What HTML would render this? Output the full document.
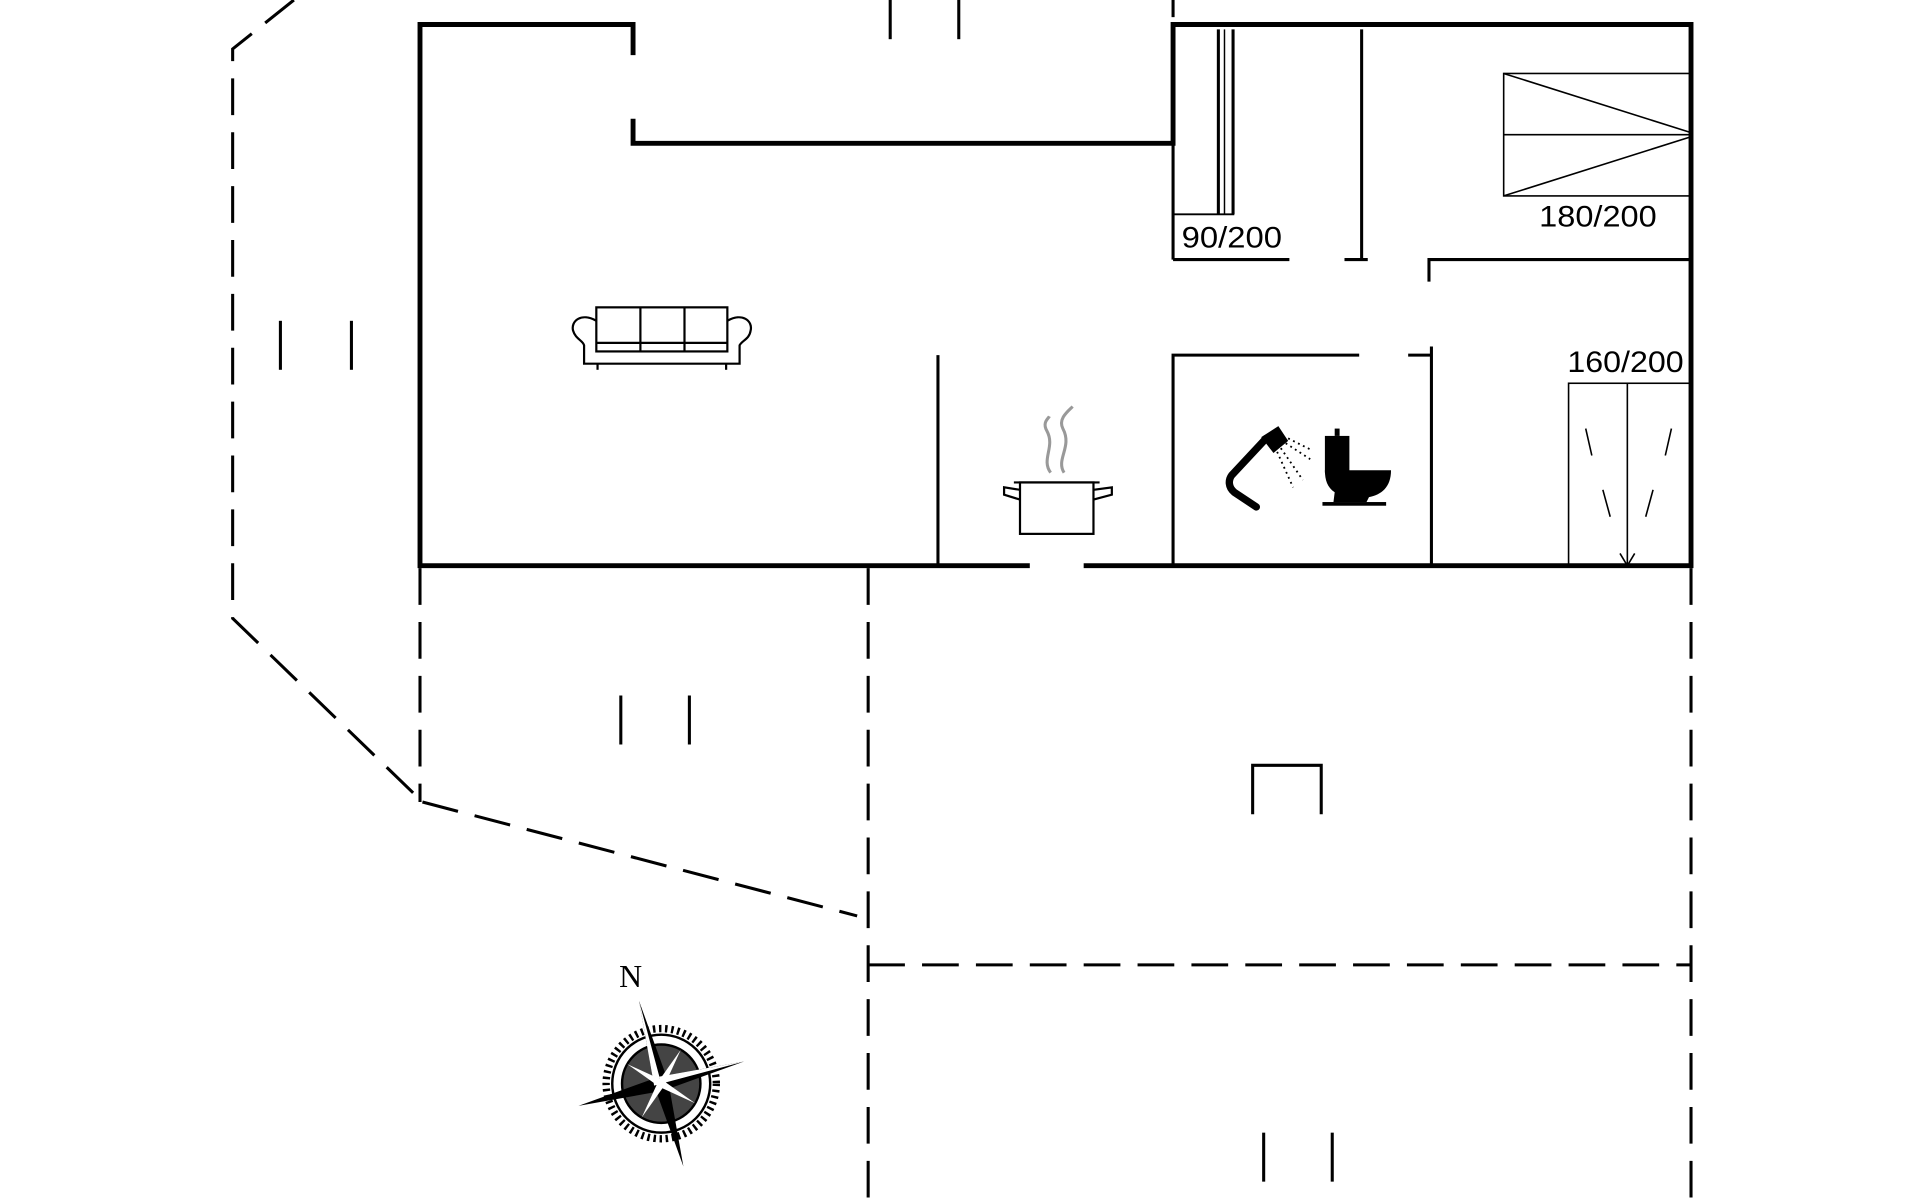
<!DOCTYPE html>
<html><head><meta charset="utf-8"><style>html,body{margin:0;padding:0;background:#fff;width:1920px;height:1200px;overflow:hidden}svg{display:block}</style></head>
<body>
<svg width="1920" height="1200" viewBox="0 0 1568 980" xmlns="http://www.w3.org/2000/svg">
<g fill="none" stroke="#000" stroke-linecap="butt">
<polyline stroke-width="4" points="517,45 517,20 343,20 343,462 841,462"/>
<polyline stroke-width="4" points="885,462 1381,462 1381,20 958,20 958,117 517,117 517,97"/>
<g stroke-width="2.5">
<line x1="766" y1="290" x2="766" y2="462"/>
<line x1="995" y1="24" x2="995" y2="175"/>
<line x1="1000" y1="24" x2="1000" y2="175" stroke-width="1.2"/>
<line x1="1007" y1="24" x2="1007" y2="175"/>
<line x1="958" y1="175" x2="1008" y2="175" stroke-width="1.5"/>
<line x1="958" y1="24" x2="958" y2="212"/>
<line x1="958" y1="212" x2="1053" y2="212"/>
<line x1="1098" y1="212" x2="1117" y2="212"/>
<line x1="1112" y1="24" x2="1112" y2="212"/>
<polyline points="1167,230 1167,212 1381,212"/>
<polyline points="958,462 958,290 1110,290"/>
<polyline points="1150,290 1169,290"/>
<line x1="1169" y1="283" x2="1169" y2="462"/>
</g>
<g stroke-width="1.3">
<rect x="1228" y="60" width="152" height="100"/>
<line x1="1228" y1="110" x2="1380" y2="110"/>
<line x1="1228" y1="60" x2="1380" y2="108"/>
<line x1="1228" y1="160" x2="1380" y2="112"/>
<rect x="1281" y="313" width="99" height="148"/>
<line x1="1329" y1="313" x2="1329" y2="461"/>
<line x1="1295" y1="350" x2="1300" y2="372"/><line x1="1309" y1="400" x2="1315" y2="422"/>
<line x1="1365" y1="350" x2="1360" y2="372"/><line x1="1350" y1="400" x2="1344" y2="422"/>
<polyline points="1323,452 1329,462 1335,452"/>
</g>
<g stroke-width="2.5" stroke-dasharray="30,14">
<polyline points="240,0 190,40 190,505 340,650"/>
<polyline points="345,655 700,748"/>
<line x1="343" y1="464" x2="343" y2="655"/>
<line x1="709" y1="464" x2="709" y2="980"/>
<line x1="1381" y1="464" x2="1381" y2="980"/>
<line x1="709" y1="788" x2="1381" y2="788"/>
<line x1="958" y1="0" x2="958" y2="14"/>
</g>
<g stroke-width="2.5">
<line x1="727" y1="0" x2="727" y2="32"/><line x1="783" y1="0" x2="783" y2="32"/>
<line x1="229" y1="262" x2="229" y2="302"/><line x1="287" y1="262" x2="287" y2="302"/>
<line x1="507" y1="568" x2="507" y2="608"/><line x1="563" y1="568" x2="563" y2="608"/>
<line x1="1032" y1="925" x2="1032" y2="965"/><line x1="1088" y1="925" x2="1088" y2="965"/>
<polyline points="1023,665 1023,625 1079,625 1079,665"/>
</g>
<g stroke-width="1.8">
<rect x="487" y="251" width="107" height="36"/>
<line x1="523" y1="251" x2="523" y2="287"/><line x1="559" y1="251" x2="559" y2="287"/>
<line x1="487" y1="280" x2="594" y2="280"/>
<path d="M487,262 C475,255 466,262 468,270 C470,277 476,278 477,282 L477,297 L604,297 L604,282 C606,278 612,277 613,270 C615,262 606,255 594,262"/>
<line x1="488" y1="297" x2="488" y2="302"/><line x1="593" y1="297" x2="593" y2="302"/>
</g>
<g stroke-width="1.8">
<rect x="833" y="394" width="60" height="42"/>
<path d="M833,400 L820,398 L820,404 L833,408 M893,400 L908,398 L908,404 L893,408"/>
<line x1="828" y1="394" x2="898" y2="394"/>
</g>
<g stroke="#999" stroke-width="2.5">
<path d="M858,386 C850,375 862,365 855,352 C851,345 856,342 857,340"/>
<path d="M869,386 C862,375 876,365 868,350 C864,342 872,336 876,332"/>
</g>
</g>
<g>
<path d="M1026,414 L1008,402 C1003,398 1003,392 1006,388 L1034,358" fill="none" stroke="#000" stroke-width="6" stroke-linecap="round"/>
<path d="M1030,357 L1044,348 L1052,360 L1040,370 Z" fill="#000"/>
<g stroke="#000" stroke-width="1.5" stroke-dasharray="1.5,3">
<line x1="1050" y1="362" x2="1070" y2="375"/><line x1="1046" y1="366" x2="1064" y2="392"/>
<line x1="1043" y1="369" x2="1056" y2="398"/><line x1="1052" y1="358" x2="1072" y2="368"/>
</g>
</g>
<g fill="#000">
<rect x="1090" y="350" width="4" height="6"/>
<rect x="1082" y="356" width="20" height="30"/>
<path d="M1082,384 L1136,384 C1136,398 1128,404 1118,406 L1116,410 L1089,410 L1090,402 C1084,398 1082,392 1082,384 Z"/>
<rect x="1080" y="410" width="52" height="3"/>
</g>
<g font-family="Liberation Sans, sans-serif" font-size="24" fill="#000">
<text x="965" y="202" textLength="82" lengthAdjust="spacingAndGlyphs">90/200</text>
<text x="1257" y="185" textLength="96" lengthAdjust="spacingAndGlyphs">180/200</text>
<text x="1280" y="304" textLength="95" lengthAdjust="spacingAndGlyphs">160/200</text>
</g>
<g transform="translate(540,885)">
<circle r="45" fill="none" stroke="#000" stroke-width="6" stroke-dasharray="2,3"/>
<circle r="40" fill="#fff" stroke="#000" stroke-width="2"/>
<circle r="32" fill="#444" stroke="#000" stroke-width="2"/>
<g transform="rotate(-15)">
<polygon points="0,-70 6,0 0,70 -6,0" fill="#000"/>
<polygon points="-70,0 0,-6 70,0 0,6" fill="#000"/>
<polygon points="0,-70 -6,0 0,0" fill="#fff"/>
<polygon points="70,0 0,-6 0,0" fill="#fff"/>
<g transform="rotate(45)">
<polygon points="0,-32 3,0 0,32 -3,0" fill="#fff"/>
<polygon points="-32,0 0,-3 32,0 0,3" fill="#fff"/>
</g>
</g>
</g>
<text x="515" y="806" font-family="Liberation Serif, serif" font-size="26" text-anchor="middle" fill="#000">N</text>
</svg>
</body></html>
